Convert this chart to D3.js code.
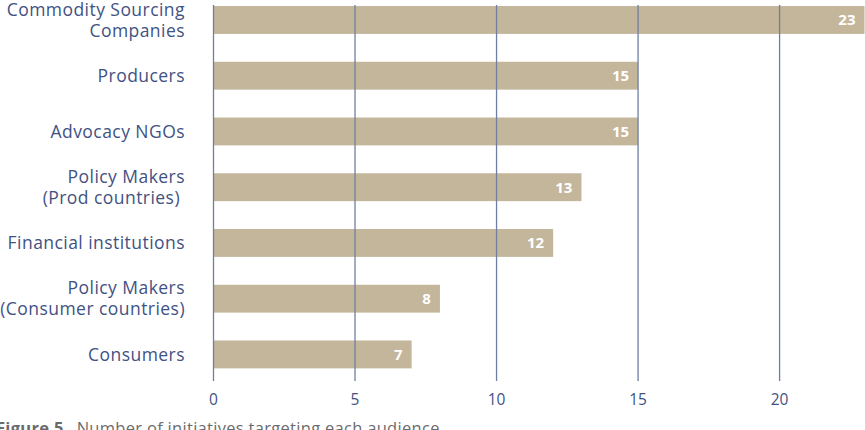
<!DOCTYPE html>
<html><head><meta charset="utf-8">
<script src="https://cdn.jsdelivr.net/npm/d3@7"></script>
<style>body{margin:0;background:#fff}svg{display:block}</style>
</head><body>
<svg id="c" width="865" height="430"></svg>
<script>
const categories = [
  ["Commodity Sourcing","Companies"],
  ["Producers"],
  ["Advocacy NGOs"],
  ["Policy Makers","(Prod countries)\u00a0"],
  ["Financial institutions"],
  ["Policy Makers","(Consumer countries)"],
  ["Consumers"]
];
const values = [23, 15, 15, 13, 12, 8, 7];
const tickValues = [0, 5, 10, 15, 20];
const caption = ["Figure 5.", "Number of initiatives targeting each audience"];

const svg = d3.select("#c");
const font = "'Open Sans', sans-serif";
const blue = "#3f5283";
const x = d3.scaleLinear().domain([0, 23]).range([213.5, 864.5]);
const y = d3.scaleBand().domain(d3.range(values.length)).range([-7.9, 382.3]).paddingInner(0.5).paddingOuter(0.25);

svg.append("g").selectAll("rect").data(values).join("rect")
  .attr("x", x(0)).attr("y", (d,i)=>y(i))
  .attr("width", d=>x(d)-x(0)).attr("height", y.bandwidth())
  .attr("fill", "#c4b69b");

svg.append("g").selectAll("line").data(tickValues).join("line")
  .attr("x1", d=>x(d)).attr("x2", d=>x(d))
  .attr("y1", 5).attr("y2", 381)
  .attr("stroke", "#6f7ea3").attr("stroke-width", 1.3);

svg.append("g").selectAll("text").data(values).join("text")
  .attr("x", d=>x(d)-9).attr("y", (d,i)=>y(i)+y.bandwidth()/2)
  .attr("dy", "0.36em").attr("text-anchor", "end")
  .attr("fill", "#fff").attr("font-family", font).attr("font-weight", 700)
  .attr("font-size", 15).text(d=>d);

const lab = svg.append("g").selectAll("text").data(categories).join("text")
  .attr("text-anchor", "end").attr("fill", blue)
  .attr("font-family", font).attr("font-size", 17.5).attr("letter-spacing", 0.45)
  .attr("transform", (d,i)=>`translate(185,${y(i)+y.bandwidth()/2})`);
lab.selectAll("tspan").data(d=>d.map((t,j)=>({t,j,n:d.length}))).join("tspan")
  .attr("x", 0)
  .attr("y", d=>(d.j-(d.n-1)/2)*21)
  .attr("dy", "0.35em")
  .text(d=>d.t);

svg.append("g").selectAll("text").data(tickValues).join("text")
  .attr("x", d=>x(d)).attr("y", 400).attr("dy", "0.35em")
  .attr("text-anchor", "middle").attr("fill", blue)
  .attr("font-family", font).attr("font-size", 15.5).text(d=>d);

const cap = svg.append("text").attr("x", -4).attr("y", 434)
  .attr("fill", "#6b6b6b").attr("font-family", font).attr("font-size", 16.5).attr("letter-spacing", 0.3);
cap.append("tspan").attr("font-weight", 700).text(caption[0]);
cap.append("tspan").attr("dx", 8).text(caption[1]);
</script>
</body></html>
